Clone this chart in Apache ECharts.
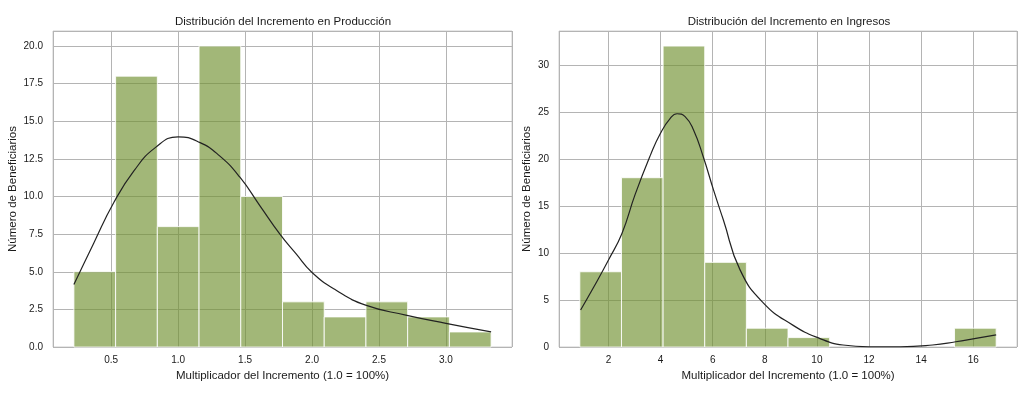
<!DOCTYPE html>
<html><head><meta charset="utf-8">
<script src="https://cdn.jsdelivr.net/npm/echarts@6/dist/echarts.min.js"></script>
<style>html,body{margin:0;padding:0;background:#fff}#c{width:1024px;height:395px}</style>
</head><body><div id="c"></div>
<script>
// ---- data ----
const prodTitle = 'Distribución del Incremento en Producción';
const ingTitle = 'Distribución del Incremento en Ingresos';
const xName = 'Multiplicador del Incremento (1.0 = 100%)';
const yName = 'Número de Beneficiarios';

const prodBinEdges = [0.222, 0.5335, 0.845, 1.1565, 1.468, 1.7795, 2.091, 2.4025, 2.714, 3.0255, 3.337];
const prodCounts   = [5, 18, 8, 20, 10, 3, 2, 3, 2, 1];
const prodKdeX = [0.222, 0.37, 0.52, 0.67, 0.83, 1.0, 1.16, 1.31, 1.46, 1.61, 1.76, 1.88, 2.0, 2.18, 2.4, 2.7, 3.0, 3.337];
const prodKdeY = [4.15, 6.9, 9.6, 11.7, 13.25, 13.97, 13.6, 12.7, 11.3, 9.4, 7.5, 6.2, 4.95, 3.77, 2.78, 2.12, 1.57, 1.0];

const ingBinEdges = [0.90, 2.498, 4.096, 5.694, 7.292, 8.89, 10.488, 12.086, 13.684, 15.282, 16.88];
const ingCounts   = [8, 18, 32, 9, 2, 1, 0, 0, 0, 2];
const ingKdeX = [0.93, 1.44, 2.01, 2.52, 3.02, 3.61, 3.99, 4.37, 4.63, 4.94, 5.26, 5.64, 6.03, 6.41, 7.05, 7.94, 9.09, 10.1, 11.0, 12.0, 13.2, 14.44, 15.33, 16.1, 16.88];
const ingKdeY = [3.94, 6.4, 9.3, 12.1, 16.2, 20.4, 22.7, 24.3, 24.8, 24.5, 23.1, 20.2, 16.7, 13.5, 8.2, 4.7, 2.3, 0.92, 0.21, 0.02, 0.02, 0.21, 0.56, 0.92, 1.28];

// ---- helpers ----
function bins(edges, counts) { return counts.map((c, i) => [edges[i], edges[i + 1], c]); }
function pairs(xs, ys) { return xs.map((x, i) => [x, ys[i]]); }

const FONT = 'Liberation Sans';
const BAR_FILL = 'rgba(112,144,48,0.65)';
const GRID_COLOR = '#b4b4b4';

function renderBar(params, api) {
  const x0 = api.value(0), x1 = api.value(1), h = api.value(2);
  if (!h) return null;
  const p0 = api.coord([x0, 0]);
  const p1 = api.coord([x1, h]);
  return {
    type: 'rect',
    shape: { x: p0[0], y: p1[1], width: p1[0] - p0[0], height: p0[1] - p1[1] },
    style: { fill: BAR_FILL, stroke: 'rgba(255,255,255,0.85)', lineWidth: 1 }
  };
}

function xAxis(gi, min, max, step, fmt) {
  return {
    type: 'value', gridIndex: gi, min: min, max: max,
    minInterval: step, maxInterval: step,
    name: xName, nameLocation: 'middle', nameGap: 18,
    nameTextStyle: { fontFamily: FONT, fontSize: 11.5, color: '#1a1a1a' },
    axisLine: { show: false }, axisTick: { show: false },
    axisLabel: { fontFamily: FONT, fontSize: 10, color: '#1a1a1a', margin: 8,
      showMinLabel: false, showMaxLabel: false, formatter: fmt },
    splitLine: { show: true, lineStyle: { color: GRID_COLOR, width: 1 } }
  };
}
function yAxis(gi, max, step, fmt, gap) {
  return {
    type: 'value', gridIndex: gi, min: 0, max: max, interval: step,
    name: yName, nameLocation: 'middle', nameGap: gap,
    nameTextStyle: { fontFamily: FONT, fontSize: 11.5, color: '#1a1a1a' },
    axisLine: { show: false }, axisTick: { show: false },
    axisLabel: { fontFamily: FONT, fontSize: 10, color: '#1a1a1a', margin: 10,
      showMaxLabel: false, formatter: fmt },
    splitLine: { show: true, lineStyle: { color: GRID_COLOR, width: 1 } }
  };
}

const chart = echarts.init(document.getElementById('c'), null, { renderer: 'canvas' });
chart.setOption({
  backgroundColor: '#ffffff',
  animation: false,
  title: [
    { text: prodTitle, left: 283, top: 16, padding: 0, textAlign: 'center',
      textStyle: { fontFamily: FONT, fontSize: 11.5, fontWeight: 'normal', color: '#1a1a1a' } },
    { text: ingTitle, left: 789, top: 16, padding: 0, textAlign: 'center',
      textStyle: { fontFamily: FONT, fontSize: 11.5, fontWeight: 'normal', color: '#1a1a1a' } }
  ],
  grid: [
    { left: 53, right: 512, top: 31, bottom: 48, show: true, borderColor: '#cfcfcf', borderWidth: 1, backgroundColor: 'transparent', outerBoundsMode: 'none', containLabel: false },
    { left: 559, right: 7, top: 31, bottom: 48, show: true, borderColor: '#cfcfcf', borderWidth: 1, backgroundColor: 'transparent', outerBoundsMode: 'none', containLabel: false }
  ],
  xAxis: [
    xAxis(0, 0.066, 3.493, 0.5, v => v.toFixed(1)),
    xAxis(1, 0.10, 17.68, 2, v => String(Math.round(v)))
  ],
  yAxis: [
    yAxis(0, 21, 2.5, v => v.toFixed(1), 34),
    yAxis(1, 33.6, 5, v => String(Math.round(v)), 26)
  ],
  series: [
    { type: 'custom', xAxisIndex: 0, yAxisIndex: 0, renderItem: renderBar,
      encode: { x: [0, 1], y: 2 }, data: bins(prodBinEdges, prodCounts), z: 2 },
    { type: 'line', xAxisIndex: 0, yAxisIndex: 0, data: pairs(prodKdeX, prodKdeY),
      smooth: 0.5, showSymbol: false, symbol: 'none', z: 3,
      lineStyle: { color: '#222', width: 1.2 } },
    { type: 'custom', xAxisIndex: 1, yAxisIndex: 1, renderItem: renderBar,
      encode: { x: [0, 1], y: 2 }, data: bins(ingBinEdges, ingCounts), z: 2 },
    { type: 'line', xAxisIndex: 1, yAxisIndex: 1, data: pairs(ingKdeX, ingKdeY),
      smooth: 0.5, showSymbol: false, symbol: 'none', z: 3,
      lineStyle: { color: '#222', width: 1.2 } }
  ]
});
</script>
</body></html>
